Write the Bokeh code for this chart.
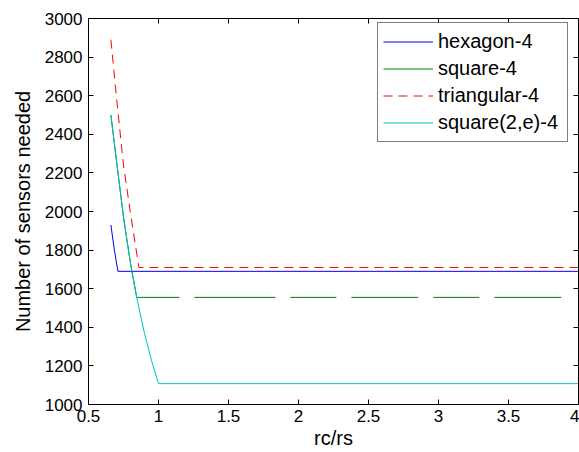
from bokeh.plotting import figure
from bokeh.models import LinearAxis, FixedTicker, Range1d
from bokeh.embed import file_html
from bokeh.resources import INLINE

# ---- data ----
hex_x = [0.66, 0.685, 0.71, 4.0]
hex_y = [1930, 1800, 1690, 1690]

sq_x = [0.66, 0.70, 0.75, 0.80, 0.844, 4.0]
sq_y = [2500, 2262, 1970, 1731, 1555, 1555]

tri_x = [0.66, 0.70, 0.75, 0.80, 0.86, 4.0]
tri_y = [2890, 2590, 2240, 1990, 1710, 1710]

sq2e_x = [0.66, 0.70, 0.75, 0.80, 0.85, 0.90, 0.95, 1.0, 4.0]
sq2e_y = [2500, 2262, 1970, 1731, 1534, 1368, 1228, 1108, 1108]

series_names = ["hexagon-4", "square-4", "triangular-4", "square(2,e)-4"]

x_ticks = [0.5, 1.0, 1.5, 2.0, 2.5, 3.0, 3.5, 4.0]
x_tick_labels = ["0.5", "1", "1.5", "2", "2.5", "3", "3.5", "4"]
y_ticks = [1000, 1200, 1400, 1600, 1800, 2000, 2200, 2400, 2600, 2800, 3000]
y_tick_labels = ["1000", "1200", "1400", "1600", "1800", "2000", "2200", "2400", "2600", "2800", "3000"]

FONT = "Liberation Sans"

p = figure(width=579, height=452, x_range=Range1d(0.5, 4.0), y_range=Range1d(1000, 3000),
           output_backend="svg", toolbar_location=None,
           min_border_left=88, min_border_right=1, min_border_top=18, min_border_bottom=48)
p.background_fill_color = "white"
p.border_fill_color = "white"
p.outline_line_color = "black"
p.xgrid.visible = False
p.ygrid.visible = False

p.line(hex_x, hex_y, line_color="#0000FF", line_width=1, legend_label=series_names[0])
p.line(sq_x, sq_y, line_color="#008000", line_width=1,
       line_dash="227 15 81 15 46 15 67 15 46 15 67 30", legend_label=series_names[1])
p.line(tri_x, tri_y, line_color="#FF0000", line_width=1, line_dash="9 6", legend_label=series_names[2])
p.line(sq2e_x, sq2e_y, line_color="#00BFBF", line_width=1, legend_label=series_names[3])

def style_axis(ax, ticks, labels, show_labels=True):
    ax.ticker = FixedTicker(ticks=ticks)
    ax.major_tick_in = 5
    ax.major_tick_out = 0
    ax.minor_tick_in = 0
    ax.minor_tick_out = 0
    ax.axis_line_color = "black"
    ax.major_tick_line_color = "black"
    ax.major_label_text_font = FONT
    ax.major_label_text_color = "black"
    ax.axis_label_text_font = FONT
    ax.axis_label_text_font_style = "normal"
    ax.axis_label_text_color = "black"
    if show_labels:
        ax.major_label_overrides = {t: l for t, l in zip(ticks, labels)}
        ax.major_label_text_font_size = "17px"
        ax.axis_label_text_font_size = "20px"
    else:
        ax.major_label_overrides = {t: "" for t in ticks}
        ax.major_label_text_font_size = "1px"
        ax.major_label_standoff = 0

xa = p.xaxis[0]
style_axis(xa, x_ticks, x_tick_labels)
xa.axis_label = "rc/rs"
xa.major_label_standoff = 5
xa.axis_label_standoff = 2

ya = p.yaxis[0]
style_axis(ya, y_ticks, y_tick_labels)
ya.axis_label = "Number of sensors needed"
ya.major_label_standoff = 6
ya.axis_label_standoff = 8

top = LinearAxis()
style_axis(top, x_ticks, x_tick_labels, show_labels=False)
p.add_layout(top, "above")
right = LinearAxis()
style_axis(right, y_ticks, y_tick_labels, show_labels=False)
p.add_layout(right, "right")

lg = p.legend[0]
lg.location = (289, 262)
lg.label_text_font = FONT
lg.label_text_font_size = "20px"
lg.label_text_color = "black"
lg.label_height = 27
lg.glyph_height = 27
lg.glyph_width = 50
lg.label_standoff = 5
lg.label_width = 124
lg.spacing = 0
lg.padding = 5
lg.margin = 0
lg.border_line_color = "black"
lg.border_line_width = 1
lg.background_fill_color = "white"
lg.background_fill_alpha = 1.0

open("out.html", "w").write(file_html(p, INLINE))
